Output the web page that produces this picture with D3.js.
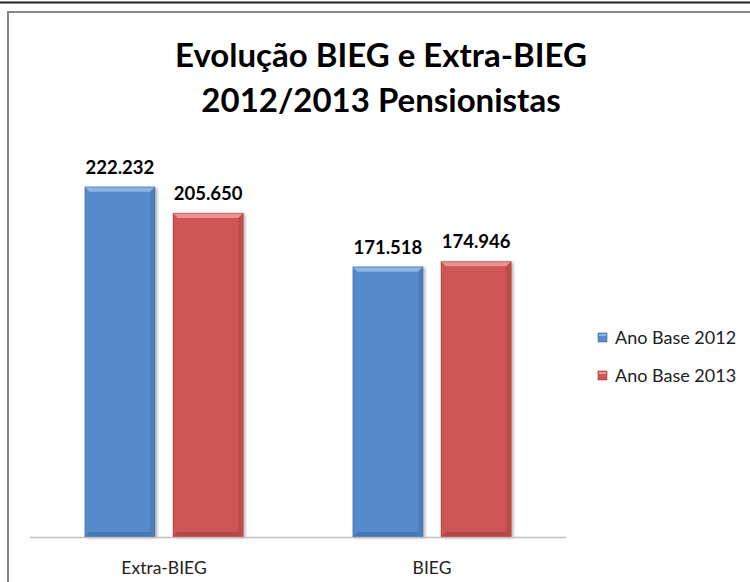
<!DOCTYPE html>
<html><head><meta charset="utf-8">
<script src="https://cdn.jsdelivr.net/npm/d3@7/dist/d3.min.js"></script>
<style>body{margin:0;background:#fff}svg{display:block}</style>
</head><body>
<script>
const categories = ["Extra-BIEG", "BIEG"];
const seriesNames = ["Ano Base 2012", "Ano Base 2013"];
const values2012 = [222232, 171518];
const values2013 = [205650, 174946];
const labels2012 = ["222.232", "171.518"];
const labels2013 = ["205.650", "174.946"];
const titleLines = ["Evolução BIEG e Extra-BIEG", "2012/2013 Pensionistas"];

const W = 750, H = 582;
const colors = ["#558ACB", "#CD5553"];
const light = ["#93B8E6", "#EA9C9A"];
const dark = ["#3F6CA5", "#A53F3D"];
const font = "Lato, 'Open Sans', sans-serif";

const svg = d3.select("body").append("svg").attr("width", W).attr("height", H);
const defs = svg.append("defs");
const f = defs.append("filter").attr("id","sh").attr("x","-20%").attr("y","-20%").attr("width","140%").attr("height","140%");
f.append("feGaussianBlur").attr("in","SourceAlpha").attr("stdDeviation",1.5);
f.append("feOffset").attr("dx",2).attr("dy",1).attr("result","b");
f.append("feComponentTransfer").append("feFuncA").attr("type","linear").attr("slope",0.3);
const m = f.append("feMerge"); m.append("feMergeNode"); m.append("feMergeNode").attr("in","SourceGraphic");

// frame
svg.append("line").attr("x1",0).attr("x2",W).attr("y1",2.5).attr("y2",2.5).attr("stroke","#222").attr("stroke-width",2);
svg.append("path").attr("d",`M8,${H} V12 H${W}`).attr("fill","none").attr("stroke","#878787").attr("stroke-width",2);

// title
svg.append("g").selectAll("text").data(titleLines).join("text")
  .attr("x",381).attr("y",(d,i)=>67+i*45).attr("text-anchor","middle")
  .attr("font-family",font).attr("font-weight","bold").attr("font-size",33).attr("fill","#000")
  .text(d=>d);

const x0 = d3.scaleBand().domain(categories).range([30,566]).paddingInner(0).paddingOuter(0);
const x1 = d3.scaleBand().domain([0,1]).range([0,x0.bandwidth()]).paddingInner(0.2).paddingOuter(0.62);
const y = d3.scaleLinear().domain([0,250000]).range([537,143]);

const data = [];
categories.forEach((c,i)=>{
  data.push({c, s:0, v:values2012[i], l:labels2012[i]});
  data.push({c, s:1, v:values2013[i], l:labels2013[i]});
});

const gBars = svg.append("g");
data.forEach(d=>{
  const bx = x0(d.c)+x1(d.s), bw = x1.bandwidth(), by = y(d.v), bh = y(0)-y(d.v);
  const g = gBars.append("g");
  g.append("rect").attr("x",bx).attr("y",by).attr("width",bw).attr("height",bh).attr("fill",colors[d.s]).attr("filter","url(#sh)");
  const b = 5;
  g.append("path").attr("d",`M${bx},${by} H${bx+bw} L${bx+bw-b},${by+b} H${bx+b} Z`).attr("fill",light[d.s]).attr("opacity",0.9);
  g.append("path").attr("d",`M${bx+bw},${by} L${bx+bw-b},${by+b} V${by+bh-b} L${bx+bw},${by+bh} Z`).attr("fill",dark[d.s]).attr("opacity",0.4);
  g.append("path").attr("d",`M${bx},${by+bh} L${bx+b},${by+bh-b} H${bx+bw-b} L${bx+bw},${by+bh} Z`).attr("fill",dark[d.s]).attr("opacity",0.6);
  g.append("rect").attr("x",bx+0.5).attr("y",by+0.5).attr("width",bw-1).attr("height",bh-1).attr("fill","none").attr("stroke",dark[d.s]).attr("stroke-opacity",0.45);
  svg.append("text").attr("x",bx+bw/2).attr("y",by-13).attr("text-anchor","middle")
    .attr("font-family",font).attr("font-weight","bold").attr("font-size",18.5).attr("fill","#000").text(d.l);
});

// baseline
svg.append("line").attr("x1",30).attr("x2",566).attr("y1",537.5).attr("y2",537.5).attr("stroke","#BFBFBF").attr("stroke-width",1.5);

// category axis labels
svg.append("g").selectAll("text").data(categories).join("text")
  .attr("x",d=>x0(d)+x0.bandwidth()/2).attr("y",574).attr("text-anchor","middle")
  .attr("font-family",font).attr("font-size",17.5).attr("fill","#222").text(d=>d);

// legend
const lg = svg.append("g").selectAll("g").data(seriesNames).join("g").attr("transform",(d,i)=>`translate(598,${333+i*38})`);
lg.append("rect").attr("width",9).attr("height",9).attr("fill",(d,i)=>colors[i]).attr("stroke",(d,i)=>dark[i]).attr("stroke-width",0.6);
lg.append("rect").attr("x",1).attr("y",1).attr("width",7).attr("height",2).attr("fill",(d,i)=>light[i]);
lg.append("text").attr("x",17).attr("y",11).attr("font-family",font).attr("font-size",18).attr("fill","#222").text(d=>d);
</script>
</body></html>
